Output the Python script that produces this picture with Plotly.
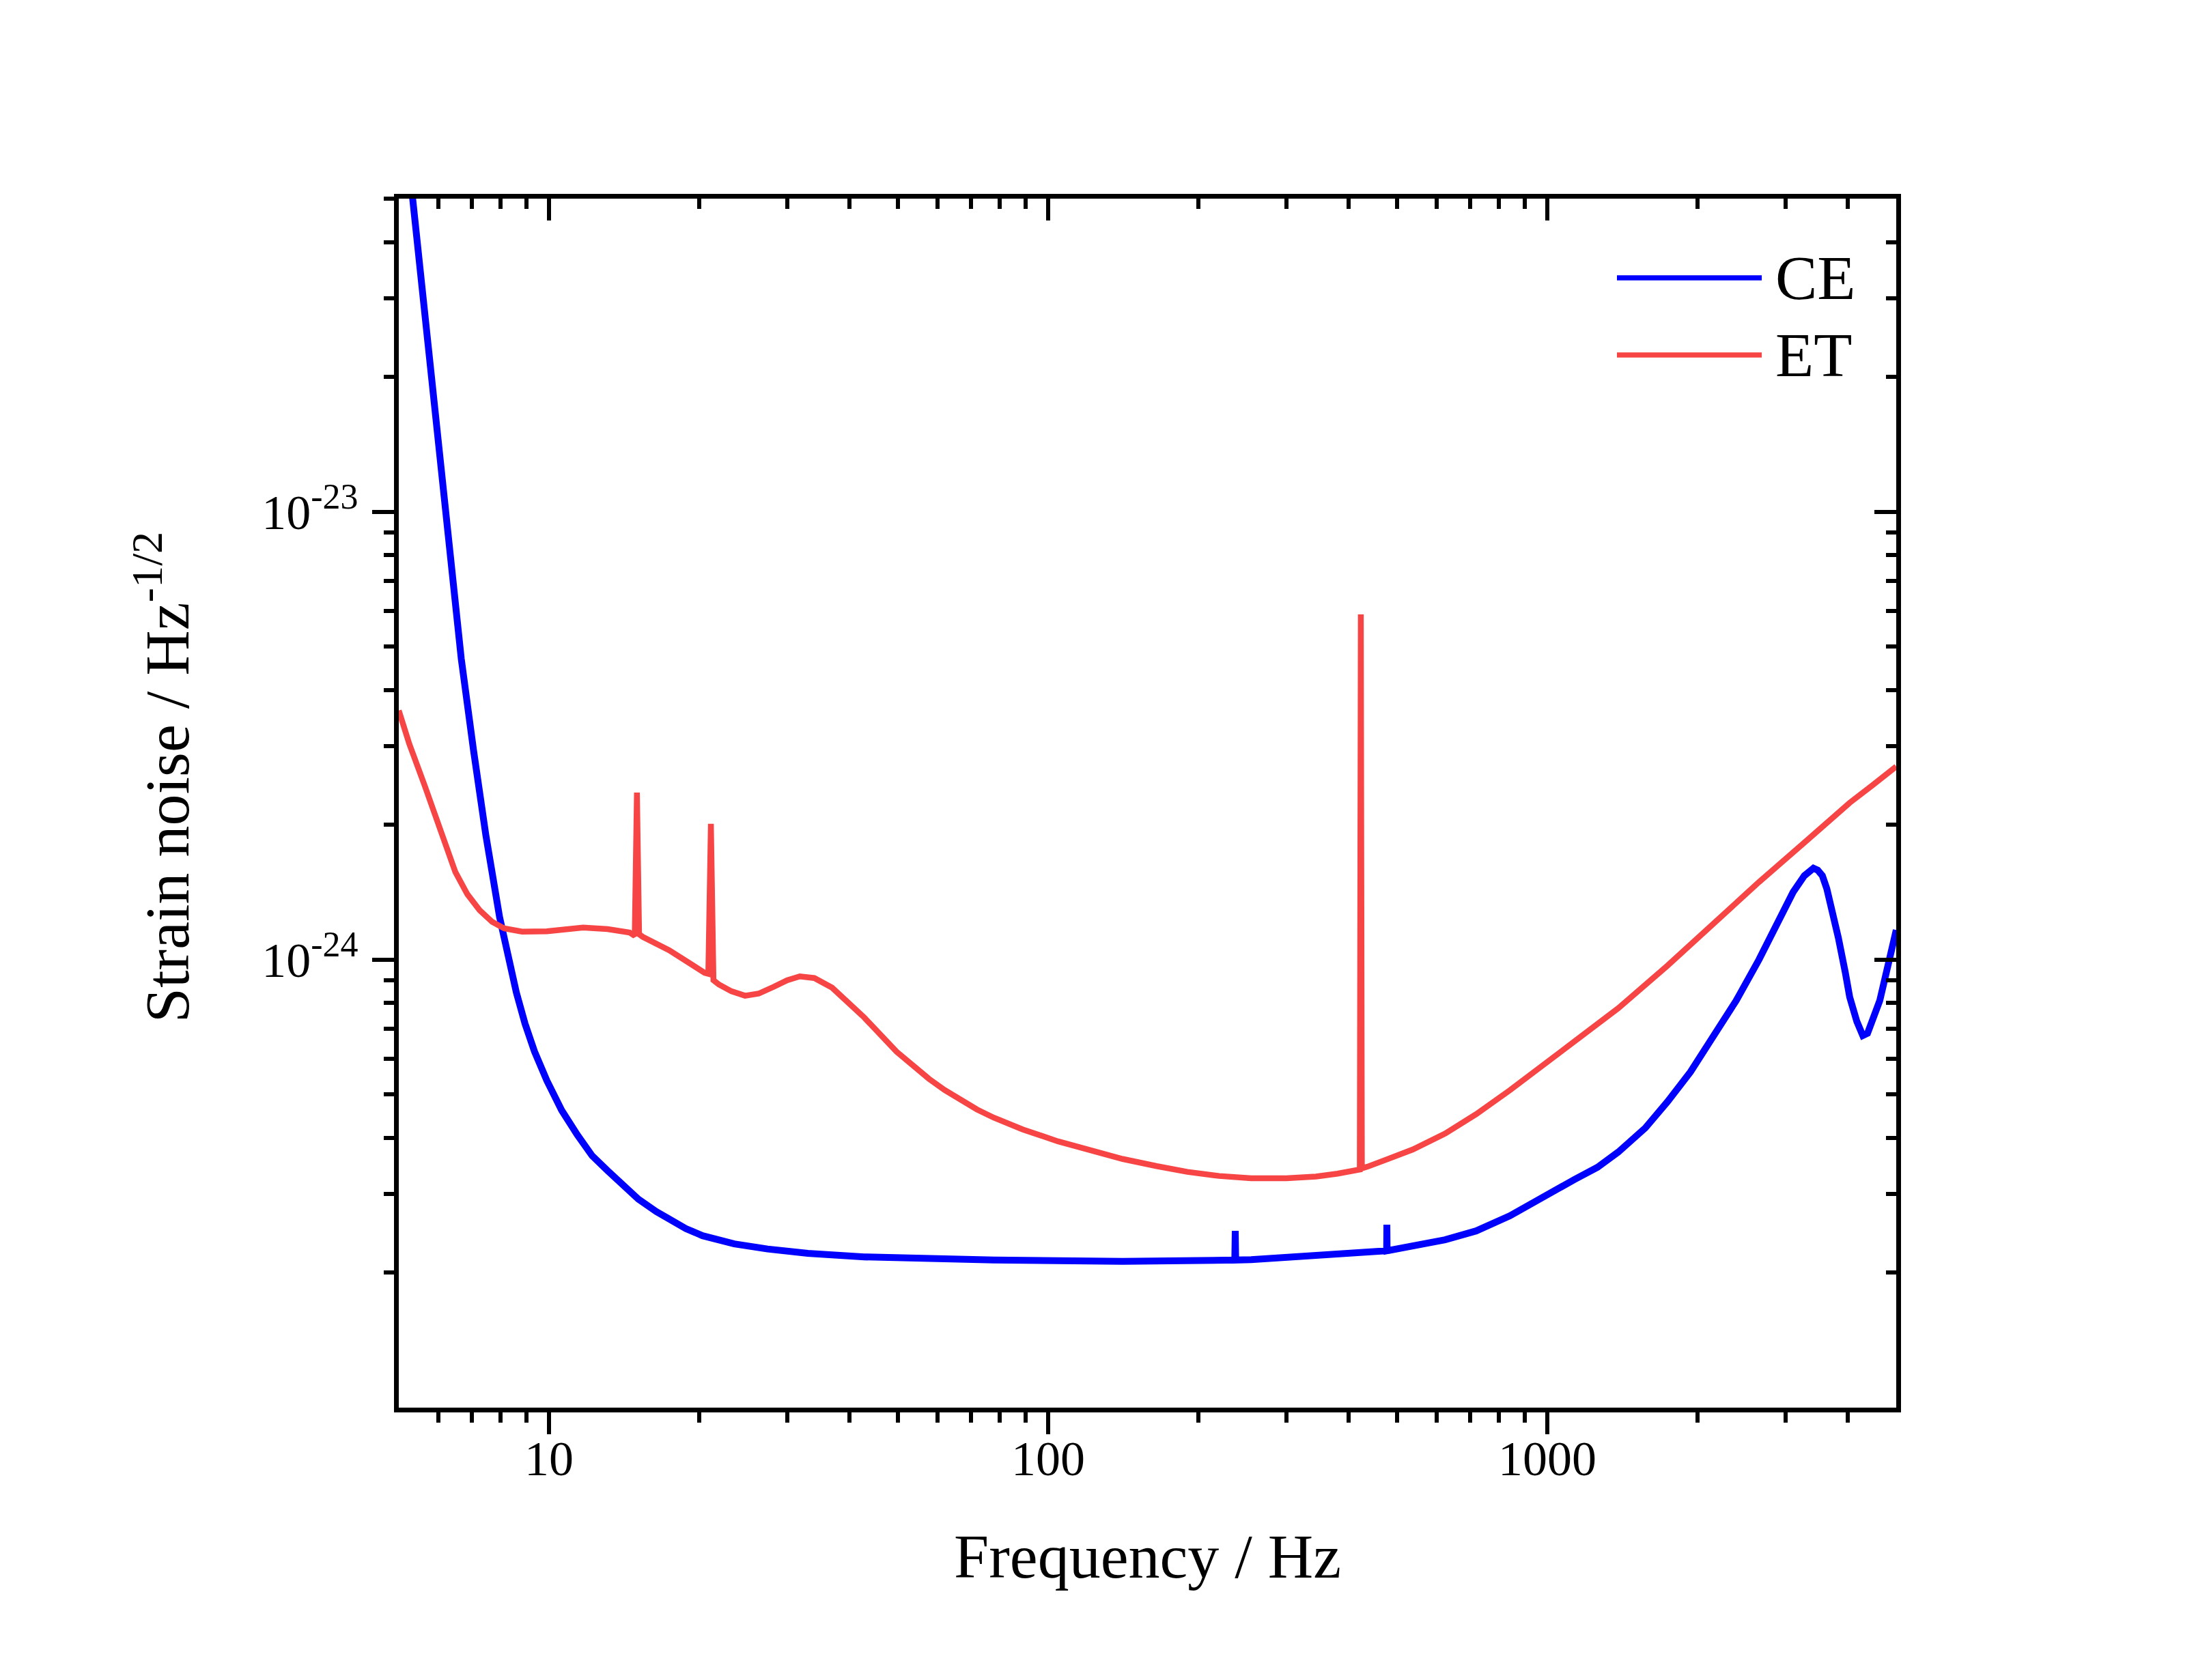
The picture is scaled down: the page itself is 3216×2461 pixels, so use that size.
import numpy as np
import plotly.graph_objects as go

# CE strain noise
ce_freq = [5.2, 5.33, 5.64, 5.96, 6.31, 6.67, 7.06, 7.47, 7.96, 8.3, 8.6, 8.95, 9.35, 9.9, 10.6,
           11.4, 12.2, 13.1, 14.1, 15.1, 16.4, 17.5, 18.8, 20.3, 23.5, 27.4, 33, 42.8, 60, 77.8,
           141, 236.5, 237, 237.5, 255, 344, 476.5, 477, 477.5, 624, 720, 841, 960, 1133, 1260,
           1387, 1571, 1741, 1936, 2148, 2389, 2654, 2946, 3107, 3273, 3350, 3413, 3480, 3556,
           3630, 3711, 3828, 3954, 4034, 4169, 4230, 4285, 4380, 4480, 4634, 4833, 5000]
ce_asd = [6.5e-23, 5.03e-23, 2.79e-23, 1.52e-23, 8.04e-24, 4.70e-24, 2.93e-24, 1.90e-24, 1.245e-24,
          1.0e-24, 8.45e-25, 7.2e-25, 6.24e-25, 5.37e-25, 4.61e-25, 4.06e-25, 3.65e-25, 3.38e-25,
          3.12e-25, 2.92e-25, 2.74e-25, 2.62e-25, 2.51e-25, 2.42e-25, 2.32e-25, 2.26e-25, 2.21e-25,
          2.17e-25, 2.145e-25, 2.135e-25, 2.12e-25, 2.135e-25, 2.48e-25, 2.135e-25, 2.14e-25,
          2.18e-25, 2.24e-25, 2.56e-25, 2.24e-25, 2.37e-25, 2.48e-25, 2.68e-25, 2.92e-25, 3.23e-25,
          3.44e-25, 3.72e-25, 4.21e-25, 4.82e-25, 5.62e-25, 6.72e-25, 8.1e-25, 1.0e-24, 1.25e-24,
          1.415e-24, 1.54e-24, 1.58e-24, 1.60e-24, 1.585e-24, 1.54e-24, 1.44e-24, 1.31e-24,
          1.12e-24, 9.35e-25, 8.25e-25, 7.28e-25, 6.95e-25, 6.77e-25, 6.85e-25, 7.27e-25, 8.1e-25,
          9.9e-25, 1.165e-24]

# ET strain noise
et_freq = [5.0, 5.25, 5.64, 5.88, 6.13, 6.49, 6.86, 7.26, 7.69, 8.13, 8.84, 9.9, 11.7, 13.1, 14.5,
           14.85, 15.0, 15.15, 15.4, 17.4, 20.5, 20.85, 21.1, 21.35, 21.9, 23.2, 24.7, 26.3, 28.2,
           30.0, 31.8, 34.0, 36.9, 42.8, 49.7, 57.7, 62, 66.9, 72, 77.8, 88.9, 104.6, 120, 141, 165,
           190, 220, 255, 300, 344, 380, 412, 421, 423, 425, 436, 538, 624, 720, 841, 980, 1133,
           1387, 1741, 2654, 3300, 4034, 4480, 5000]
et_asd = [3.6e-24, 3.03e-24, 2.44e-24, 2.13e-24, 1.86e-24, 1.57e-24, 1.40e-24, 1.29e-24, 1.215e-24,
          1.175e-24, 1.155e-24, 1.157e-24, 1.18e-24, 1.17e-24, 1.15e-24, 1.13e-24, 2.36e-24, 1.14e-24,
          1.125e-24, 1.05e-24, 9.35e-25, 9.3e-25, 2.01e-24, 9.0e-25, 8.8e-25, 8.5e-25, 8.31e-25,
          8.4e-25, 8.7e-25, 9.0e-25, 9.18e-25, 9.1e-25, 8.66e-25, 7.43e-25, 6.23e-25, 5.42e-25,
          5.12e-25, 4.85e-25, 4.63e-25, 4.44e-25, 4.18e-25, 3.93e-25, 3.76e-25, 3.59e-25, 3.46e-25,
          3.36e-25, 3.29e-25, 3.25e-25, 3.25e-25, 3.28e-25, 3.33e-25, 3.39e-25, 3.40e-25, 5.9e-24,
          3.42e-25, 3.45e-25, 3.77e-25, 4.09e-25, 4.52e-25, 5.11e-25, 5.8e-25, 6.53e-25, 7.79e-25,
          9.7e-25, 1.49e-24, 1.84e-24, 2.24e-24, 2.45e-24, 2.70e-24]

x_ticks = [10, 100, 1000]
x_ticktext = ["10", "100", "1000"]
y_ticks = [1e-24, 1e-23]
y_ticktext = ["10<sup><span style='font-size:52px'>-24</span></sup>",
              "10<sup><span style='font-size:52px'>-23</span></sup>"]

x_minor = [m * 10 ** e for e in range(0, 4) for m in range(2, 10) if 5 < m * 10 ** e < 5000]
y_minor = [m * 10.0 ** e for e in range(-25, -22) for m in range(2, 10) if m * 10.0 ** e < 5e-23]

xr = [np.log10(5), np.log10(5000)]
yr = [-25, np.log10(5e-23)]

FONT = "Liberation Serif, Times New Roman, serif"
BLUE = "#0000FF"
RED = "#F74444"

fig = go.Figure()
fig.add_trace(go.Scatter(x=ce_freq, y=ce_asd, mode="lines", name="CE",
                         line=dict(color=BLUE, width=10)))
fig.add_trace(go.Scatter(x=et_freq, y=et_asd, mode="lines", name="ET",
                         line=dict(color=RED, width=8.5)))
# empty trace so the mirrored tick axes get drawn
fig.add_trace(go.Scatter(x=[], y=[], xaxis="x2", yaxis="y2", showlegend=False, hoverinfo="skip"))

tick_common = dict(tickwidth=6, tickcolor="black", ticklen=32, showgrid=False, zeroline=False)
minor_common = dict(tickwidth=6, tickcolor="black", ticklen=15, showgrid=False, tickmode="array")

fig.update_layout(
    width=3216, height=2461,
    margin=dict(l=576, r=447, t=283, b=407),
    paper_bgcolor="white", plot_bgcolor="white",
    showlegend=False,
    font=dict(family=FONT, color="black", size=72),
    xaxis=dict(type="log", range=xr, showline=True, linewidth=7, linecolor="black", mirror=True,
               ticks="outside", tickmode="array", tickvals=x_ticks, ticktext=x_ticktext,
               tickfont=dict(size=72, family=FONT), ticklabelstandoff=-26,
               minor=dict(ticks="outside", tickvals=x_minor, **minor_common), **tick_common),
    yaxis=dict(type="log", range=yr, showline=True, linewidth=7, linecolor="black", mirror=True,
               ticks="outside", tickmode="array", tickvals=y_ticks, ticktext=y_ticktext,
               tickfont=dict(size=72, family=FONT), ticklabelstandoff=6,
               minor=dict(ticks="outside", tickvals=y_minor, **minor_common), **tick_common),
    xaxis2=dict(type="log", range=xr, overlaying="x", side="top", anchor="y", showline=False,
                ticks="inside", tickmode="array", tickvals=x_ticks, showticklabels=False,
                minor=dict(ticks="inside", tickvals=x_minor, **minor_common), **tick_common),
    yaxis2=dict(type="log", range=yr, overlaying="y", side="right", anchor="x", showline=False,
                ticks="inside", tickmode="array", tickvals=y_ticks, showticklabels=False,
                minor=dict(ticks="inside", tickvals=y_minor, **minor_common), **tick_common),
)

# axis titles
fig.add_annotation(text="Frequency / Hz", xref="paper", yref="paper", x=0.5, y=-0.123,
                   xanchor="center", yanchor="middle", showarrow=False,
                   font=dict(size=92, family=FONT, color="black"))
fig.add_annotation(text="Strain noise / Hz<sup>-1/2</sup>", xref="paper", yref="paper",
                   x=-0.1577, y=0.5217, xanchor="center", yanchor="middle", textangle=-90,
                   showarrow=False, font=dict(size=92, family=FONT, color="black"))

# legend drawn by hand to match the long sample lines
legend_items = [("CE", BLUE, 0.9345), ("ET", RED, 0.8707)]
for label, color, ypos in legend_items:
    fig.add_shape(type="line", xref="paper", yref="paper", x0=0.8135, x1=0.9102, y0=ypos, y1=ypos,
                  line=dict(color=color, width=7.5))
    fig.add_annotation(text=label, xref="paper", yref="paper", x=0.9185, y=ypos,
                       xanchor="left", yanchor="middle", showarrow=False,
                       font=dict(size=92, family=FONT, color="black"))

fig.write_html("out.html")
